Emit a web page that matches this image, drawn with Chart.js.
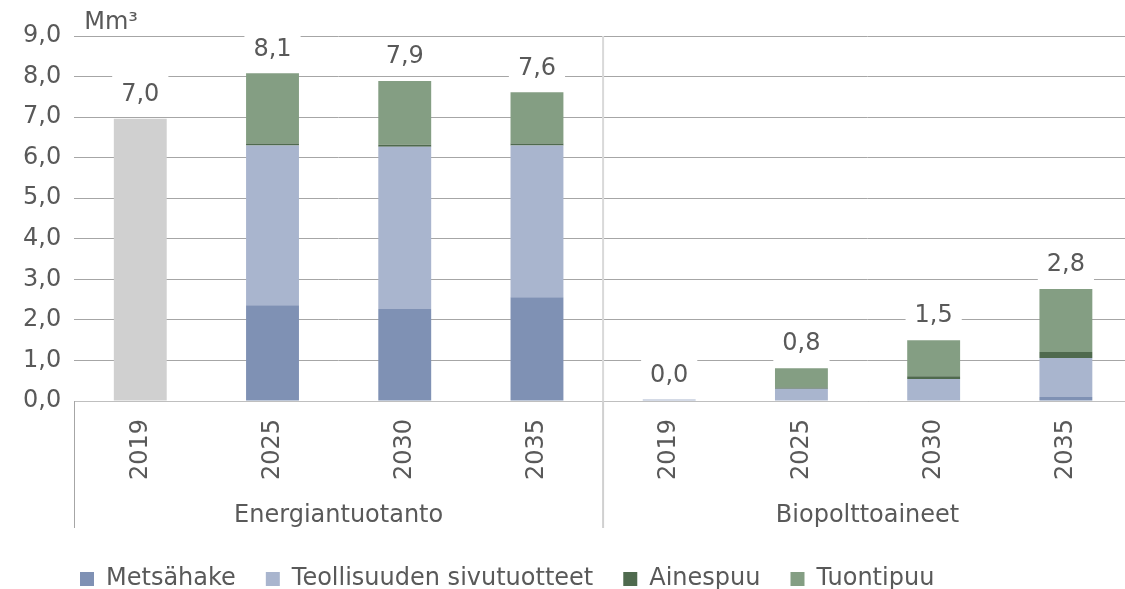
<!DOCTYPE html>
<html>
<head>
<meta charset="utf-8">
<script src="https://cdn.jsdelivr.net/npm/chart.js@4.4.0/dist/chart.umd.min.js"></script>
<style>
  html, body { margin: 0; padding: 0; background: #fff; overflow: hidden; }
  #wrap { width: 1132px; height: 589px; position: relative; }
</style>
</head>
<body>
<div id="wrap"><canvas id="chart"></canvas></div>
<script>
// categories: two groups of four years
const years = ['2019', '2025', '2030', '2035', '2019', '2025', '2030', '2035'];
const groups = ['Energiantuotanto', 'Biopolttoaineet'];
const groupSize = 4;
const unitLabel = 'Mm³';

// series values, Mm3
const total2019 = [6.96, 0, 0, 0, 0, 0, 0, 0];
const metsahake = [0, 2.36, 2.27, 2.56, 0, 0, 0, 0.10];
const teollisuus = [0, 3.94, 4.00, 3.74, 0.04, 0.30, 0.54, 0.96];
const ainespuu = [0, 0.05, 0.05, 0.05, 0, 0.03, 0.07, 0.15];
const tuontipuu = [0, 1.73, 1.57, 1.26, 0, 0.48, 0.89, 1.55];

const FONT = '"DejaVu Sans", Verdana, sans-serif';
const SIZE = 24;
const TEXT = '#595959';
Chart.defaults.font.family = FONT;
Chart.defaults.font.size = SIZE;
Chart.defaults.color = TEXT;

const fmt = v => v.toFixed(1).replace('.', ',');

// totals above each stack, on a white box
const totalsPlugin = {
  id: 'totals',
  afterDatasetsDraw(chart) {
    const { ctx, scales: { x, y } } = chart;
    ctx.save();
    ctx.font = SIZE + 'px ' + FONT;
    ctx.textAlign = 'center';
    ctx.textBaseline = 'middle';
    years.forEach((_, i) => {
      const total = chart.data.datasets.reduce((s, d) => s + (d.data[i] || 0), 0);
      const txt = fmt(total);
      const px = x.getPixelForValue(i);
      const py = y.getPixelForValue(total) - 24;
      const w = ctx.measureText(txt).width + 18;
      ctx.fillStyle = '#fff';
      ctx.fillRect(px - w / 2, py - 19, w, 38);
      ctx.fillStyle = TEXT;
      ctx.fillText(txt, px, py);
    });
    ctx.restore();
  }
};

// group separators, group names and unit label
const groupPlugin = {
  id: 'groups',
  beforeDatasetsDraw(chart) {
    const { ctx, chartArea, scales: { x } } = chart;
    const sepX = (x.getPixelForValue(groupSize - 1) + x.getPixelForValue(groupSize)) / 2;
    ctx.save();
    ctx.strokeStyle = '#d9d9d9';
    ctx.lineWidth = 2;
    ctx.beginPath();
    ctx.moveTo(sepX, chartArea.top);
    ctx.lineTo(sepX, chartArea.bottom);
    ctx.stroke();
    ctx.restore();
  },
  afterDraw(chart) {
    const { ctx, chartArea, scales: { x } } = chart;
    const bottom = chartArea.bottom + 127;
    ctx.save();
    ctx.lineWidth = 1;
    ctx.strokeStyle = '#a6a6a6';
    ctx.beginPath();
    ctx.moveTo(Math.round(chartArea.left) + 0.5, chartArea.bottom);
    ctx.lineTo(Math.round(chartArea.left) + 0.5, bottom);
    ctx.stroke();
    const sepX = (x.getPixelForValue(groupSize - 1) + x.getPixelForValue(groupSize)) / 2;
    ctx.strokeStyle = '#d0d0d0';
    ctx.lineWidth = 2;
    ctx.beginPath();
    ctx.moveTo(sepX, chartArea.bottom);
    ctx.lineTo(sepX, bottom);
    ctx.stroke();

    ctx.font = SIZE + 'px ' + FONT;
    ctx.fillStyle = TEXT;
    ctx.textAlign = 'center';
    ctx.textBaseline = 'middle';
    groups.forEach((g, gi) => {
      const a = x.getPixelForValue(gi * groupSize);
      const b = x.getPixelForValue(gi * groupSize + groupSize - 1);
      ctx.fillText(g, (a + b) / 2, chartArea.bottom + 115);
    });
    ctx.textAlign = 'left';
    ctx.fillText(unitLabel, chartArea.left + 10, chartArea.top - 13);
    ctx.restore();
  }
};

// place legend like the reference (left side, lower)
const legendShift = {
  id: 'legendShift',
  afterLayout(chart) {
    const lg = chart.legend;
    if (!lg) return;
    lg.left = 80 - lg.options.labels.padding;
    lg.top += 12;
  }
};

const bar = (label, data, color) => ({
  label, data, backgroundColor: color, stack: 's',
  barPercentage: 0.4, categoryPercentage: 1.0
});

new Chart(document.getElementById('chart'), {
  type: 'bar',
  data: {
    labels: years,
    datasets: [
      bar('2019', total2019, '#d0d0d0'),
      bar('Metsähake', metsahake, '#7f91b4'),
      bar('Teollisuuden sivutuotteet', teollisuus, '#a9b5ce'),
      bar('Ainespuu', ainespuu, '#4f6a4e'),
      bar('Tuontipuu', tuontipuu, '#849e83')
    ]
  },
  options: {
    responsive: true,
    maintainAspectRatio: false,
    animation: false,
    layout: { padding: { top: 36, left: 10, right: 0, bottom: 0 } },
    plugins: {
      tooltip: { enabled: false },
      legend: {
        position: 'bottom',
        align: 'start',
        labels: {
          boxWidth: 14,
          boxHeight: 14,
          padding: 30,
          color: TEXT,
          font: { size: SIZE },
          filter: item => item.datasetIndex !== 0
        }
      }
    },
    scales: {
      x: {
        stacked: true,
        grid: { display: false },
        border: { display: true, color: '#bfbfbf' },
        ticks: {
          autoSkip: false,
          minRotation: 90,
          maxRotation: 90,
          padding: 10,
          color: TEXT
        },
        afterFit(scale) { scale.height = 124; }
      },
      y: {
        stacked: true,
        min: 0,
        max: 9,
        grid: { color: '#a6a6a6', drawTicks: false },
        border: { display: false },
        ticks: {
          stepSize: 1,
          padding: 13,
          color: TEXT,
          callback: v => fmt(v)
        }
      }
    }
  },
  plugins: [totalsPlugin, groupPlugin, legendShift]
});
</script>
</body>
</html>
